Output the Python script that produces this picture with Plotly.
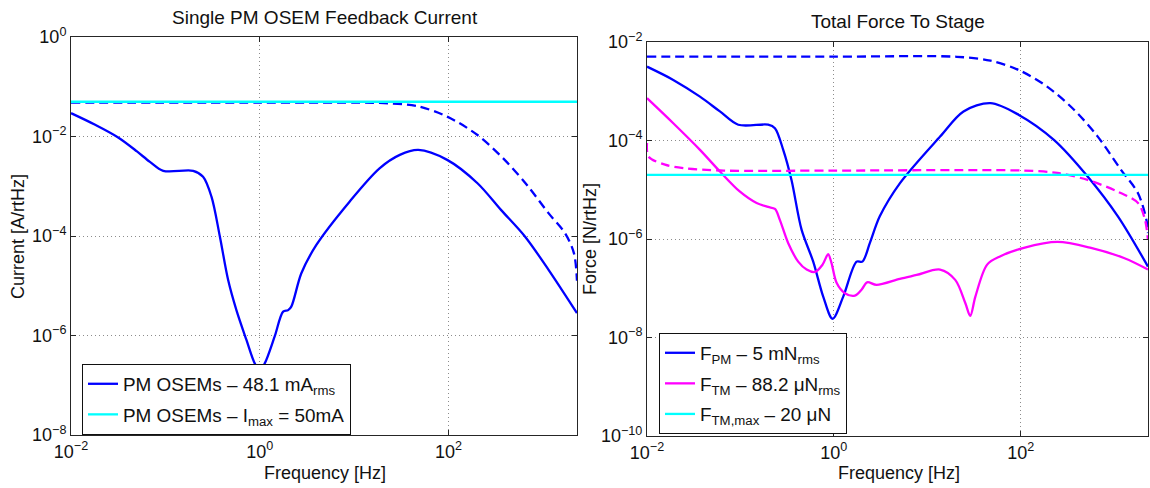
import plotly.graph_objects as go

# ---------------- Left panel: Single PM OSEM Feedback Current ----------------
f_cur = [0.01, 0.0178, 0.0316, 0.05, 0.0686, 0.095, 0.197, 0.251, 0.308, 0.378,
         0.462, 0.566, 0.723, 0.885, 1.0, 1.13, 1.44, 1.77, 2.0, 2.16, 2.76,
         3.98, 8.95, 18.6, 30.5, 47.9, 96.8, 203, 362, 646, 1150, 2300]
cur_rms = [2.95e-2, 1.74e-2, 9.55e-3, 5.01e-3, 3.09e-3, 2.04e-3, 2.04e-3, 1.55e-3,
           6.17e-4, 9.77e-5, 1.32e-5, 3.24e-6, 8.13e-7, 2.75e-7, 2.0e-7, 2.75e-7,
           9.55e-7, 3.02e-6, 3.24e-6, 3.80e-6, 1.78e-5, 6.61e-5, 4.90e-4, 2.29e-3,
           4.27e-3, 5.37e-3, 3.39e-3, 1.15e-3, 3.31e-4, 9.77e-5, 2.09e-5, 2.82e-6]

f_cur_dash = [0.01, 1.0, 10, 18.6, 46, 96.8, 203, 394, 702, 1148, 1730, 2138, 2300]
cur_dash = [4.81e-2, 4.81e-2, 4.79e-2, 4.73e-2, 4.10e-2, 2.51e-2, 1.07e-2, 3.39e-3,
            9.77e-4, 2.88e-4, 1.12e-4, 4.47e-5, 1.26e-5]

f_imax = [0.01, 2300]
i_max = [0.05, 0.05]

# ---------------- Right panel: Total Force To Stage ----------------
f_fpm = [0.01, 0.0191, 0.0369, 0.0603, 0.0948, 0.198, 0.234, 0.287, 0.352, 0.451,
         0.601, 0.769, 0.968, 1.259, 1.75, 2.02, 2.43, 3.10, 5.08, 13.7, 24.4,
         47.4, 95.5, 228, 520, 1096, 2300]
fpm = [3.16e-3, 1.70e-3, 7.76e-4, 3.89e-4, 2.09e-4, 2.09e-4, 1.78e-4, 6.46e-5,
       1.58e-5, 1.55e-6, 3.47e-7, 6.76e-8, 2.40e-8, 6.76e-8, 3.47e-7, 3.47e-7,
       8.32e-7, 2.88e-6, 1.35e-5, 1.20e-4, 3.89e-4, 5.75e-4, 3.31e-4, 1.02e-4,
       1.86e-5, 2.88e-6, 2.75e-7]

f_fpm_dash = [0.01, 1.0, 20.7, 47.4, 95.5, 193, 374, 667, 1189, 1799, 2213, 2300]
fpm_dash = [5.03e-3, 5.03e-3, 5.01e-3, 4.17e-3, 2.69e-3, 1.23e-3, 4.17e-4, 1.20e-4,
            2.51e-5, 8.51e-6, 2.45e-6, 1.32e-6]

f_ftm = [0.01, 0.0191, 0.0369, 0.0604, 0.0989, 0.149, 0.198, 0.234, 0.264, 0.324,
         0.415, 0.511, 0.627, 0.757, 0.869, 0.944, 1.069, 1.312, 1.679, 1.977,
         2.27, 2.864, 5.08, 7.69, 13.7, 19.9, 25.5, 28.8, 32.7, 43.7, 60.7, 108,
         247, 565, 1291, 2300]
ftm = [7.24e-4, 2.24e-4, 6.46e-5, 2.34e-5, 9.12e-6, 5.37e-6, 4.47e-6, 4.07e-6,
       2.45e-6, 8.32e-7, 3.47e-7, 2.40e-7, 2.14e-7, 3.02e-7, 4.90e-7, 3.24e-7,
       1.29e-7, 7.94e-8, 7.08e-8, 9.33e-8, 1.32e-7, 1.17e-7, 1.55e-7, 1.86e-7,
       2.40e-7, 1.48e-7, 5.01e-8, 2.75e-8, 6.76e-8, 3.02e-7, 4.47e-7, 6.61e-7,
       8.71e-7, 6.61e-7, 4.07e-7, 2.40e-7]

f_ftm_dash = [0.01, 0.0104, 0.0156, 0.0245, 0.066, 1.0, 107, 247, 520, 1096, 1799, 2138, 2300]
ftm_dash = [8.9e-5, 4.7e-5, 3.24e-5, 2.75e-5, 2.45e-5, 2.45e-5, 2.45e-5, 2.19e-5,
            1.58e-5, 9.12e-6, 5.37e-6, 2.45e-6, 9.55e-7]

f_ftm_max = [0.01, 2300]
ftm_max = [2e-5, 2e-5]

x_ticks = [0.01, 1, 100]
x_ticktext = ["10<sup>\u22122</sup>", "10<sup>0</sup>", "10<sup>2</sup>"]
yl_ticks = [1, 1e-2, 1e-4, 1e-6, 1e-8]
yl_ticktext = ["10<sup>0</sup>", "10<sup>\u22122</sup>", "10<sup>\u22124</sup>",
               "10<sup>\u22126</sup>", "10<sup>\u22128</sup>"]
yr_ticks = [1e-2, 1e-4, 1e-6, 1e-8, 1e-10]
yr_ticktext = ["10<sup>\u22122</sup>", "10<sup>\u22124</sup>", "10<sup>\u22126</sup>",
               "10<sup>\u22128</sup>", "10<sup>\u221210</sup>"]

BLUE = "#0000ff"
MAG = "#ff00ff"
CYAN = "#00ffff"
FONT = "Liberation Sans, Arial, Helvetica, sans-serif"
W, H = 1150, 488

def px(x):
    return x / W

def py(y):
    return 1 - y / H

spl = dict(shape="spline", smoothing=0.9)

fig = go.Figure()
# left panel
fig.add_trace(go.Scatter(x=f_cur, y=cur_rms, mode="lines",
                         line=dict(color=BLUE, width=2.3, **spl),
                         name="PM OSEMs \u2013 48.1 mA<sub>rms</sub>",
                         legend="legend", legendgroup="a", xaxis="x", yaxis="y"))
fig.add_trace(go.Scatter(x=f_cur_dash, y=cur_dash, mode="lines",
                         line=dict(color=BLUE, width=2.3, dash="9px,5px", **spl),
                         showlegend=False, xaxis="x", yaxis="y"))
fig.add_trace(go.Scatter(x=f_imax, y=i_max, mode="lines",
                         line=dict(color=CYAN, width=2.3),
                         name="PM OSEMs \u2013 I<sub>max</sub> = 50mA",
                         legend="legend", legendgroup="b", xaxis="x", yaxis="y"))
# right panel
fig.add_trace(go.Scatter(x=f_fpm, y=fpm, mode="lines",
                         line=dict(color=BLUE, width=2.3, **spl),
                         name="F<sub>PM</sub> \u2013 5 mN<sub>rms</sub>",
                         legend="legend2", legendgroup="c", xaxis="x2", yaxis="y2"))
fig.add_trace(go.Scatter(x=f_ftm, y=ftm, mode="lines",
                         line=dict(color=MAG, width=2.3, **spl),
                         name="F<sub>TM</sub> \u2013 88.2 \u03bcN<sub>rms</sub>",
                         legend="legend2", legendgroup="d", xaxis="x2", yaxis="y2"))
fig.add_trace(go.Scatter(x=f_fpm_dash, y=fpm_dash, mode="lines",
                         line=dict(color=BLUE, width=2.3, dash="9px,5px", **spl),
                         showlegend=False, xaxis="x2", yaxis="y2"))
fig.add_trace(go.Scatter(x=f_ftm_dash, y=ftm_dash, mode="lines",
                         line=dict(color=MAG, width=2.3, dash="9px,5px", **spl),
                         showlegend=False, xaxis="x2", yaxis="y2"))
fig.add_trace(go.Scatter(x=f_ftm_max, y=ftm_max, mode="lines",
                         line=dict(color=CYAN, width=2.3),
                         name="F<sub>TM,max</sub> \u2013 20 \u03bcN",
                         legend="legend2", legendgroup="e", xaxis="x2", yaxis="y2"))

axis_common = dict(type="log", showline=True, linecolor="#262626", linewidth=1,
                   mirror="ticks", ticks="inside", ticklen=5, tickcolor="#262626",
                   showgrid=True, gridcolor="#8c8c8c", gridwidth=1, griddash="1px,3px",
                   zeroline=False, automargin=False,
                   tickfont=dict(family=FONT, size=18, color="#111"))

leg_common = dict(xanchor="left", yanchor="top",
                  bgcolor="white", bordercolor="#111", borderwidth=1,
                  font=dict(family=FONT, size=18.9, color="#111"),
                  traceorder="grouped", tracegroupgap=3, itemwidth=30)

fig.update_layout(
    width=W, height=H, autosize=False,
    margin=dict(l=0, r=0, t=0, b=0),
    paper_bgcolor="white", plot_bgcolor="white",
    font=dict(family=FONT, size=18, color="#111"),
    xaxis=dict(domain=[px(71), px(577)], anchor="y", range=[-2, 3.362],
               tickvals=x_ticks, ticktext=x_ticktext, **axis_common),
    yaxis=dict(domain=[py(435), py(37)], anchor="x", range=[-8, 0],
               tickvals=yl_ticks, ticktext=yl_ticktext, **axis_common),
    xaxis2=dict(domain=[px(647), px(1148)], anchor="y2", range=[-2, 3.362],
                tickvals=x_ticks, ticktext=x_ticktext, **axis_common),
    yaxis2=dict(domain=[py(436), py(42)], anchor="x2", range=[-10, -2],
                tickvals=yr_ticks, ticktext=yr_ticktext, **axis_common),
    legend=dict(x=px(82), y=py(364), **leg_common),
    legend2=dict(x=px(659), y=py(333), **leg_common),
    showlegend=True,
)

annots = [
    dict(text="Single PM OSEM Feedback Current", x=px(325), y=py(17), size=19),
    dict(text="Total Force To Stage", x=px(898), y=py(22), size=19),
    dict(text="Frequency [Hz]", x=px(325), y=py(473), size=18),
    dict(text="Frequency [Hz]", x=px(899), y=py(473), size=18),
    dict(text="Current [A/rtHz]", x=px(18), y=py(237), textangle=-90, size=18),
    dict(text="Force [N/rtHz]", x=px(590), y=py(239), textangle=-90, size=18),
]
for a in annots:
    size = a.pop("size")
    fig.add_annotation(xref="paper", yref="paper", showarrow=False,
                       xanchor="center", yanchor="middle",
                       font=dict(family=FONT, size=size, color="#111"), **a)

fig.write_html("out.html")
